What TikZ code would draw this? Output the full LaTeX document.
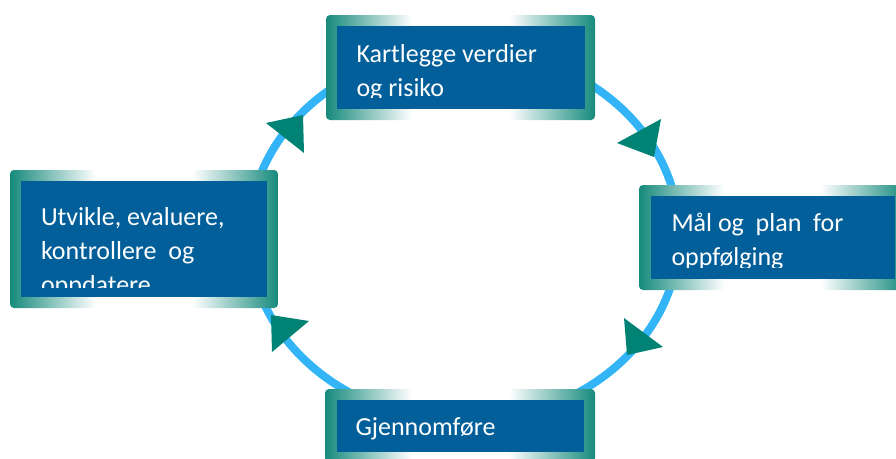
\documentclass[tikz,border=0pt]{standalone}
\usepackage{fontspec}
\setmainfont{Carlito}
\usetikzlibrary{positioning}
\definecolor{ringblue}{RGB}{50,180,247}
\definecolor{arrowteal}{RGB}{0,131,116}
\definecolor{frameteal}{RGB}{22,138,124}
\definecolor{boxblue}{RGB}{2,95,153}
\pgfdeclarehorizontalshading{framefade}{100bp}{color(0bp)=(frameteal); color(25bp)=(frameteal);
  color(41bp)=(white); color(59bp)=(white); color(75bp)=(frameteal); color(100bp)=(frameteal)}

\begin{document}
\begin{tikzpicture}[x=1pt, y=-1pt,
                ring/.style={draw=ringblue, line width=8pt},
                arrowhead/.style={fill=arrowteal},
                boxframe/.style={shade, shading=framefade, rounded corners=4pt, inner sep=0pt},
                boxfill/.style={fill=boxblue, inner sep=0pt},
                boxtext/.style={anchor=base west, align=left, inner sep=0pt, text=white,
                        font=\fontsize{26}{34}\selectfont}]
                \useasboundingbox (0,0) rectangle (896,458);

                % Cycle ring and arrow heads
                \coordinate (hub) at (464,235);
                \draw[ring] (hub) ellipse [x radius=215, y radius=186];
                \fill[arrowhead] (303,115) -- (266,123) -- (304,153) -- cycle;
                \fill[arrowhead] (654,157) -- (617,143) -- (661,119) -- cycle;
                \fill[arrowhead] (627,355) -- (624,318) -- (663,347) -- cycle;
                \fill[arrowhead] (271,315) -- (309,321) -- (272,352) -- cycle;

                % Top step
                \node[boxframe, minimum width=269pt, minimum height=105pt] (kart) at (460.5,67.5) {};
                \node[boxfill, minimum width=248pt, minimum height=83pt] (kart-in) at (kart) {};
                \begin{scope}
                    \clip ([yshift=12pt]kart-in.south west) rectangle (kart-in.north east);
                    \node[boxtext] (kart-txt) at ([xshift=20pt, yshift=-71pt]kart-in.north west)
                        {Kartlegge verdier\\og risiko};
                \end{scope}

                % Right step
                \node[boxframe, minimum width=267pt, minimum height=105pt] (maal) at (772.5,237.5) {};
                \node[boxfill, minimum width=244pt, minimum height=83pt] (maal-in) at (maal) {};
                \begin{scope}
                    \clip ([yshift=12pt]maal-in.south west) rectangle (maal-in.north east);
                    \node[boxtext] (maal-txt) at ([xshift=21pt, yshift=-70pt]maal-in.north west)
                        {Mål og~~plan~~for\\oppfølging};
                \end{scope}

                % Bottom step
                \node[boxframe, minimum width=270pt, minimum height=73pt] (gjen) at (460,425.5) {};
                \node[boxfill, minimum width=247pt, minimum height=52pt] (gjen-in) at (gjen) {};
                \begin{scope}
                    \clip ([yshift=8pt]gjen-in.south west) rectangle (gjen-in.north east);
                    \node[boxtext] (gjen-txt) at ([xshift=19pt, yshift=-36pt]gjen-in.north west)
                        {Gjennomføre};
                \end{scope}

                % Left step
                \node[boxframe, minimum width=268pt, minimum height=138pt] (utv) at (144,239) {};
                \node[boxfill, minimum width=246pt, minimum height=116pt] (utv-in) at (utv) {};
                \begin{scope}
                    \clip ([yshift=10pt]utv-in.south west) rectangle (utv-in.north east);
                    \node[boxtext] (utv-txt) at ([xshift=20pt, yshift=-113pt]utv-in.north west)
                        {Utvikle, evaluere,\\kontrollere~~og\\oppdatere};
                \end{scope}
            \end{tikzpicture}
\end{document}
